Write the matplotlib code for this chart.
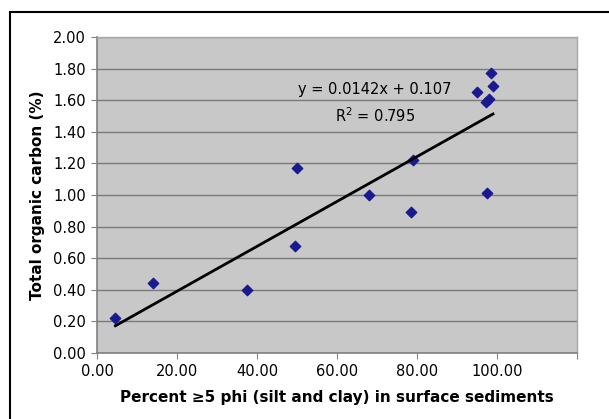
import matplotlib
matplotlib.use("Agg")
import matplotlib.pyplot as plt
from matplotlib.patches import Rectangle
import numpy as np

# Data
silt_clay = [4.6, 14.0, 37.6, 49.4, 50.0, 68.1, 78.4, 79.1, 95.0, 97.3, 98.0, 98.5, 99.0, 97.4]
toc = [0.22, 0.44, 0.40, 0.68, 1.17, 1.00, 0.89, 1.22, 1.65, 1.59, 1.61, 1.77, 1.69, 1.01]
slope = 0.0142
intercept = 0.107
x_ticks = [0, 20, 40, 60, 80, 100, 120]
x_tick_labels = ["0.00", "20.00", "40.00", "60.00", "80.00", "100.00", ""]
y_ticks = [0.0, 0.2, 0.4, 0.6, 0.8, 1.0, 1.2, 1.4, 1.6, 1.8, 2.0]

plt.rcParams['font.family'] = ['DejaVu Sans']

fig = plt.figure(figsize=(6.09, 4.19), dpi=100)
fig.patch.set_facecolor("white")

# outer chart border (cut off at right and bottom)
fig.patches.append(Rectangle((10 / 609, -0.1), 1.2, (419 - 12) / 419 + 0.1,
                             transform=fig.transFigure, fill=False,
                             edgecolor="black", linewidth=1.5))

ax = fig.add_axes([97 / 609, 66 / 419, 480 / 609, 316 / 419])
ax.set_facecolor("#c8c8c8")

ax.scatter(silt_clay, toc, marker="D", s=28, color="#1a1a90", zorder=3)

xs = np.array([min(silt_clay), max(silt_clay)])
ax.plot(xs, slope * xs + intercept, color="black", linewidth=2, zorder=4)

ax.text(69.5, 1.665, "y = 0.0142x + 0.107", ha="center", va="center", fontsize=10.5)
ax.text(69.5, 1.50, "R$^2$ = 0.795", ha="center", va="center", fontsize=10.5)

ax.set_xlim(0, 120)
ax.set_ylim(0, 2.0)
ax.set_xticks(x_ticks)
ax.set_xticklabels(x_tick_labels)
ax.set_yticks(y_ticks)
ax.set_yticklabels([f"{v:.2f}" for v in y_ticks])
ax.yaxis.grid(True, color="#7a7a7a", linewidth=1)
ax.set_axisbelow(True)
ax.tick_params(direction="out", length=4, color="#808080", labelsize=10.5, pad=4)

for side in ["left", "bottom"]:
    ax.spines[side].set_color("#808080")
    ax.spines[side].set_linewidth(1.2)
for side in ["top", "right"]:
    ax.spines[side].set_color("#a8a8a8")
    ax.spines[side].set_linewidth(1)

ax.set_xlabel("Percent \u22655 phi (silt and clay) in surface sediments",
              fontsize=11, fontweight="bold", labelpad=8)
ax.set_ylabel("Total organic carbon (%)", fontsize=11, fontweight="bold", labelpad=6)

fig.savefig("out.png", dpi=100)
